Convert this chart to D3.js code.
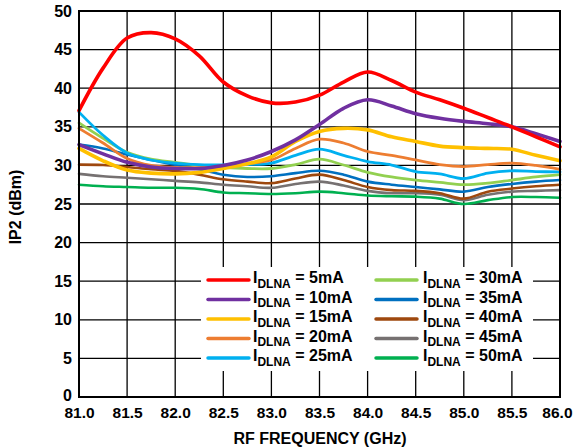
<!DOCTYPE html>
<html>
<head>
<meta charset="utf-8">
<script src="https://cdn.jsdelivr.net/npm/d3@7"></script>
<style>
  body { margin: 0; background: #fff; }
  svg { display: block; }
  text { font-family: "Liberation Sans", Arial, sans-serif; font-weight: bold; fill: #000; }
</style>
</head>
<body>
<svg id="chart" width="573" height="448"></svg>
<script>
const freq = [81.0,81.25,81.5,81.75,82.0,82.25,82.5,82.75,83.0,83.25,83.5,83.75,84.0,84.25,84.5,84.75,85.0,85.25,85.5,85.75,86.0];
const xTicks = [81.0,81.5,82.0,82.5,83.0,83.5,84.0,84.5,85.0,85.5,86.0];
const yTicks = [0,5,10,15,20,25,30,35,40,45,50];

const ip2_5mA  = [37.1,42.6,46.5,47.2,46.4,44.2,40.8,39.0,38.1,38.2,39.1,40.8,42.1,41.0,39.5,38.5,37.4,36.2,35.0,33.7,32.4];
const ip2_10mA = [32.7,31.5,30.4,29.8,29.6,29.6,30.0,30.7,31.8,33.3,35.3,37.4,38.5,37.7,36.7,36.1,35.7,35.4,35.0,34.1,33.1];
const ip2_15mA = [32.2,30.6,29.4,29.0,28.9,29.1,29.6,30.2,31.1,33.1,34.4,34.8,34.6,33.7,33.1,32.5,32.3,32.2,32.1,31.3,30.6];
const ip2_20mA = [34.8,32.9,30.9,30.0,29.75,29.7,29.75,30.2,30.7,32.2,33.4,32.9,31.8,31.3,30.7,30.1,29.85,30.1,30.3,30.0,29.5];
const ip2_25mA = [36.9,33.9,31.6,30.7,30.3,30.1,30.05,30.1,30.3,31.3,32.1,31.3,30.5,30.05,29.2,28.9,28.3,29.0,29.3,29.2,29.15];
const ip2_30mA = [35.5,33.5,31.7,30.8,30.4,30.0,29.75,29.6,29.6,30.1,30.8,30.05,29.1,28.5,28.1,27.8,27.5,27.7,28.1,28.5,28.8];
const ip2_35mA = [32.7,32.2,31.4,30.7,30.1,29.5,28.8,28.5,28.6,29.0,29.3,28.8,27.9,27.5,27.2,26.9,26.6,27.2,27.6,27.9,28.1];
const ip2_40mA = [30.1,30.05,29.8,29.5,29.3,28.8,28.2,27.9,27.7,28.3,28.8,28.1,27.2,26.8,26.7,26.4,25.7,26.6,27.0,27.3,27.5];
const ip2_45mA = [28.9,28.6,28.4,28.2,28.0,27.8,27.5,27.3,27.1,27.6,27.9,27.4,26.7,26.4,26.4,26.2,25.5,26.2,26.6,26.7,26.8];
const ip2_50mA = [27.5,27.3,27.2,27.1,27.1,26.95,26.5,26.4,26.3,26.4,26.6,26.4,26.1,26.0,25.95,25.7,25.0,25.5,25.9,25.9,25.8];

const seriesNames = ["5mA","10mA","15mA","20mA","25mA","30mA","35mA","40mA","45mA","50mA"];
const seriesValues = [ip2_5mA,ip2_10mA,ip2_15mA,ip2_20mA,ip2_25mA,ip2_30mA,ip2_35mA,ip2_40mA,ip2_45mA,ip2_50mA];
const seriesColors = ["#FF0000","#7030A0","#FFC000","#ED7D31","#00B0F0","#92D050","#0070C0","#9E480E","#767171","#00B050"];
const seriesWidths = [3.6,3.6,3.6,2.8,2.8,2.8,2.6,2.6,2.6,2.6];

const svg = d3.select("#chart");
const L = 79, R = 560, T = 11, B = 397;
const x = d3.scaleLinear().domain([81, 86]).range([L, R]);
const y = d3.scaleLinear().domain([0, 50]).range([B, T]);

// grid
const grid = svg.append("g");
grid.selectAll("line.v").data(xTicks).join("line")
  .attr("x1", d => x(d)).attr("x2", d => x(d)).attr("y1", T).attr("y2", B)
  .attr("stroke", "#000").attr("stroke-width", 1.3);
grid.selectAll("line.h").data(yTicks).join("line")
  .attr("x1", L).attr("x2", R).attr("y1", d => y(d)).attr("y2", d => y(d))
  .attr("stroke", "#000").attr("stroke-width", 1.3);

// curves (drawn from last to first so red is on top)
const line = d3.line().x((d, i) => x(freq[i])).y(d => y(d)).curve(d3.curveCatmullRom.alpha(0.5));
const order = d3.range(seriesValues.length).reverse();
svg.append("g").selectAll("path").data(order).join("path")
  .attr("d", i => line(seriesValues[i]))
  .attr("fill", "none")
  .attr("stroke", i => seriesColors[i])
  .attr("stroke-width", i => seriesWidths[i])
  .attr("stroke-linejoin", "round").attr("stroke-linecap", "round");

// frame
svg.append("rect").attr("x", L).attr("y", T).attr("width", R - L).attr("height", B - T)
  .attr("fill", "none").attr("stroke", "#000").attr("stroke-width", 2);

// axes labels
const xAxis = d3.axisBottom(x).tickValues(xTicks).tickFormat(d3.format(".1f")).tickSize(0).tickPadding(10);
const gx = svg.append("g").attr("transform", `translate(0,${B})`).call(xAxis);
gx.select(".domain").remove();
gx.selectAll("text").style("font-size", "15.5px").style("font-family", "'Liberation Sans', Arial, sans-serif").style("font-weight", "bold").attr("fill", "#000");
// keep last label inside the picture, as in the reference
gx.selectAll("text").filter(d => d === 86).attr("text-anchor", "end").attr("x", 572 - x(86));

const yAxis = d3.axisLeft(y).tickValues(yTicks).tickFormat(d3.format("d")).tickSize(0).tickPadding(7);
const gy = svg.append("g").attr("transform", `translate(${L},0)`).call(yAxis);
gy.select(".domain").remove();
gy.selectAll("text").style("font-size", "16px").style("font-family", "'Liberation Sans', Arial, sans-serif").style("font-weight", "bold").attr("fill", "#000");
gy.selectAll("text").filter(d => d === 0).attr("dy", "0.2em");

svg.append("text").attr("x", 320).attr("y", 444).attr("text-anchor", "middle")
  .style("font-size", "16px").text("RF FREQUENCY (GHz)");
svg.append("text").attr("transform", "translate(21,207) rotate(-90)").attr("text-anchor", "middle")
  .style("font-size", "16px").text("IP2 (dBm)");

// legend
const lg = svg.append("g");
lg.append("rect").attr("x", 201).attr("y", 267).attr("width", 332).attr("height", 104).attr("fill", "#fff");
const rowY = [280, 299.5, 319, 338.5, 358];
seriesNames.forEach((name, i) => {
  const col = Math.floor(i / 5), row = i % 5;
  const lx = col === 0 ? 208 : 376;
  const tx = col === 0 ? 253 : 423;
  const ly = rowY[row];
  lg.append("line").attr("x1", lx).attr("x2", lx + 41).attr("y1", ly).attr("y2", ly)
    .attr("stroke", seriesColors[i]).attr("stroke-width", 3.5).attr("stroke-linecap", "round");
  const t = lg.append("text").attr("x", tx).attr("y", ly + 3).style("font-size", "16px");
  t.append("tspan").text("I");
  t.append("tspan").attr("dy", 4.5).style("font-size", "12px").text("DLNA");
  t.append("tspan").attr("dy", -4.5).text(" = " + name);
});
</script>
</body>
</html>
